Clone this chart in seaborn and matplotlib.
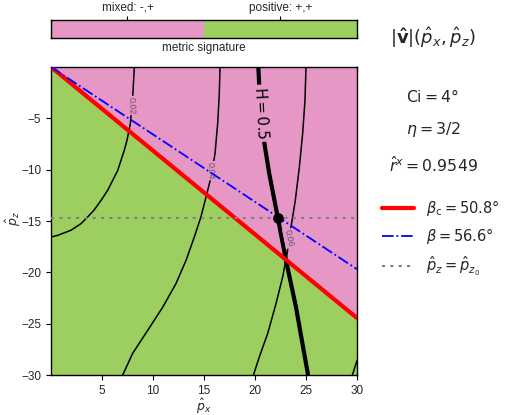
import numpy as np
import pandas as pd
import matplotlib
matplotlib.use("Agg")
import matplotlib.pyplot as plt
from matplotlib.colors import ListedColormap
import seaborn as sns

# ---------------- data ----------------
signature_labels = ["mixed: -,+", "positive: +,+"]
pink = "#E697C6"
green = "#9DCF60"

x_ticks = [5, 10, 15, 20, 25, 30]
y_ticks = [-5, -10, -15, -20, -25, -30]

# critical line beta_c (red) and beta line (blue)
red_px = [0.0, 30.0]
red_pz = [0.0, -24.45]
blue_px = [0.0, 30.0]
blue_pz = [0.0, -19.7]
pz0 = -14.7
dot_px, dot_pz = 22.29, -14.75

# contour lines |v|
c002_px = [8.17, 8.0, 7.78, 7.45, 7.19, 6.86, 6.54, 6.05, 5.56, 4.9, 4.25, 3.6, 2.94, 1.96, 0.65, 0.0]
c002_pz = [0.0, -3.1, -5.5, -7.14, -8.1, -9.09, -10.07, -11.04, -12.0, -13.0, -13.9, -14.6,
           -15.26, -15.9, -16.4, -16.56]

c004_px = [16.57, 16.5, 16.34, 16.08, 15.69, 15.2, 14.7, 14.05, 13.24, 12.25, 10.95, 9.48, 8.0, 7.03]
c004_pz = [0.0, -2.6, -5.52, -8.44, -10.7, -12.66, -14.6, -16.56, -18.83, -21.1, -23.4, -25.65,
           -27.9, -30.0]

c006_px = [25.0, 24.9, 24.67, 24.35, 23.95, 23.53, 23.14, 22.71, 22.06, 21.24, 20.42, 19.85]
c006_pz = [0.0, -3.25, -6.5, -9.74, -12.99, -15.6, -18.2, -20.46, -23.05, -25.97, -28.25, -30.0]

c008_px = [29.55, 30.0]
c008_pz = [-30.0, -28.6]

h05_px = [20.33, 20.42, 20.6, 20.85, 21.08, 21.4, 22.22, 23.04, 24.02, 25.2]
h05_pz = [0.0, -1.95, -4.5, -6.98, -8.44, -10.4, -14.6, -18.83, -23.4, -30.0]

# ---------------- figure ----------------
sns.set_style("ticks")
plt.rcParams["font.family"] = ["Liberation Sans", "DejaVu Sans"]
plt.rcParams["mathtext.fontset"] = "dejavusans"

W, H = 507, 415
fig = plt.figure(figsize=(W / 100, H / 100), dpi=100)

ax = fig.add_axes([51 / W, (H - 375) / H, 306 / W, 308 / H])
cax = fig.add_axes([51 / W, (H - 38) / H, 306 / W, 18 / H])

# colour regions
px_fill = np.array(red_px)
ax.fill_between(px_fill, red_pz, 0, color=pink, lw=0, zorder=0)
ax.fill_between(px_fill, red_pz, -30, color=green, lw=0, zorder=0)

def line(xs, ys, **kw):
    df = pd.DataFrame({"px": xs, "pz": ys})
    sns.lineplot(data=df, x="px", y="pz", sort=False, estimator=None, ax=ax, **kw)

for xs, ys in [(c002_px, c002_pz), (c004_px, c004_pz), (c006_px, c006_pz), (c008_px, c008_pz)]:
    line(xs, ys, color="black", lw=1.1, zorder=2)
line(h05_px, h05_pz, color="black", lw=3, zorder=2)

# contour labels
lab_kw = dict(fontsize=6.5, color="#6b5566", ha="center", va="center", rotation=-88,
              bbox=dict(boxstyle="square,pad=0.1", fc=pink, ec="none"), zorder=3)
ax.text(7.91, -3.75, "0.02", **lab_kw)
ax.text(15.62, -10.1, "0.04", **lab_kw)
ax.text(23.37, -16.7, "0.06", **dict(lab_kw, rotation=-78))
ax.text(20.65, -4.5, r"$\mathrm{H}=0.5$", fontsize=10.5, color="black", ha="center", va="center",
        rotation=-87, bbox=dict(boxstyle="square,pad=0.15", fc=pink, ec="none"), zorder=3)

line(red_px, red_pz, color="red", lw=3, zorder=4, label=r"$\beta_\mathrm{c} = 50.8\degree$")
line(blue_px, blue_pz, color="blue", lw=1.3, linestyle="-.", zorder=4,
     label=r"$\beta = 56.6\degree$")
ax.axhline(pz0, color="gray", lw=1.5, linestyle=(0, (1.5, 2.5)), zorder=4,
           label=r"$\hat{p}_z = \hat{p}_{z_0}$")
ax.scatter([dot_px], [dot_pz], s=45, color="black", zorder=5)

ax.set_xlim(0, 30)
ax.set_ylim(-30, 0)
ax.set_xticks(x_ticks)
ax.set_yticks(y_ticks)
ax.tick_params(labelsize=8.5, length=3.5, width=0.8, color="black")
for s in ax.spines.values():
    s.set_color("black")
    s.set_linewidth(1.0)
ax.set_xlabel("")
ax.set_ylabel("")
fig.text(204 / W, 1 - 406 / H, r"$\hat{p}_x$", fontsize=9, ha="center", va="center")
fig.text(13 / W, 1 - 219 / H, r"$\hat{p}_z$", fontsize=9, ha="center", va="center", rotation=90)

ax.legend(loc="center left", bbox_to_anchor=(1.04, 0.445), frameon=False, fontsize=10.5,
          handlelength=2.2, handletextpad=0.8, labelspacing=0.55)

# colourbar strip
sns.heatmap(np.array([[0, 1]]), cmap=ListedColormap([pink, green]), cbar=False, ax=cax,
            xticklabels=False, yticklabels=False)
cax.xaxis.tick_top()
cax.set_xticks([0.5, 1.5])
cax.set_xticklabels(signature_labels, fontsize=8.5)
cax.set_yticks([])
cax.tick_params(axis="x", length=3, width=0.8, pad=1.5, top=True, bottom=False, color="black")
for s in cax.spines.values():
    s.set_visible(True)
    s.set_color("black")
    s.set_linewidth(1.0)
cax.set_xlabel("metric signature", fontsize=8.5, labelpad=3)
cax.xaxis.set_label_position("bottom")

# side annotations
fig.text(433 / W, 1 - 38 / H, r"$|\mathbf{\hat{v}}|(\hat{p}_x, \hat{p}_z)$", fontsize=13,
         ha="center", va="center")
fig.text(433 / W, 1 - 96 / H, r"$\mathrm{Ci} = 4\degree$", fontsize=11.3, ha="center", va="center")
fig.text(433 / W, 1 - 129 / H, r"$\eta = 3/2$", fontsize=11.3, ha="center", va="center")
fig.text(433 / W, 1 - 165 / H, r"$\hat{r}^x = 0.9549$", fontsize=11.3, ha="center", va="center")

fig.savefig("out.png", dpi=100, facecolor="white")
